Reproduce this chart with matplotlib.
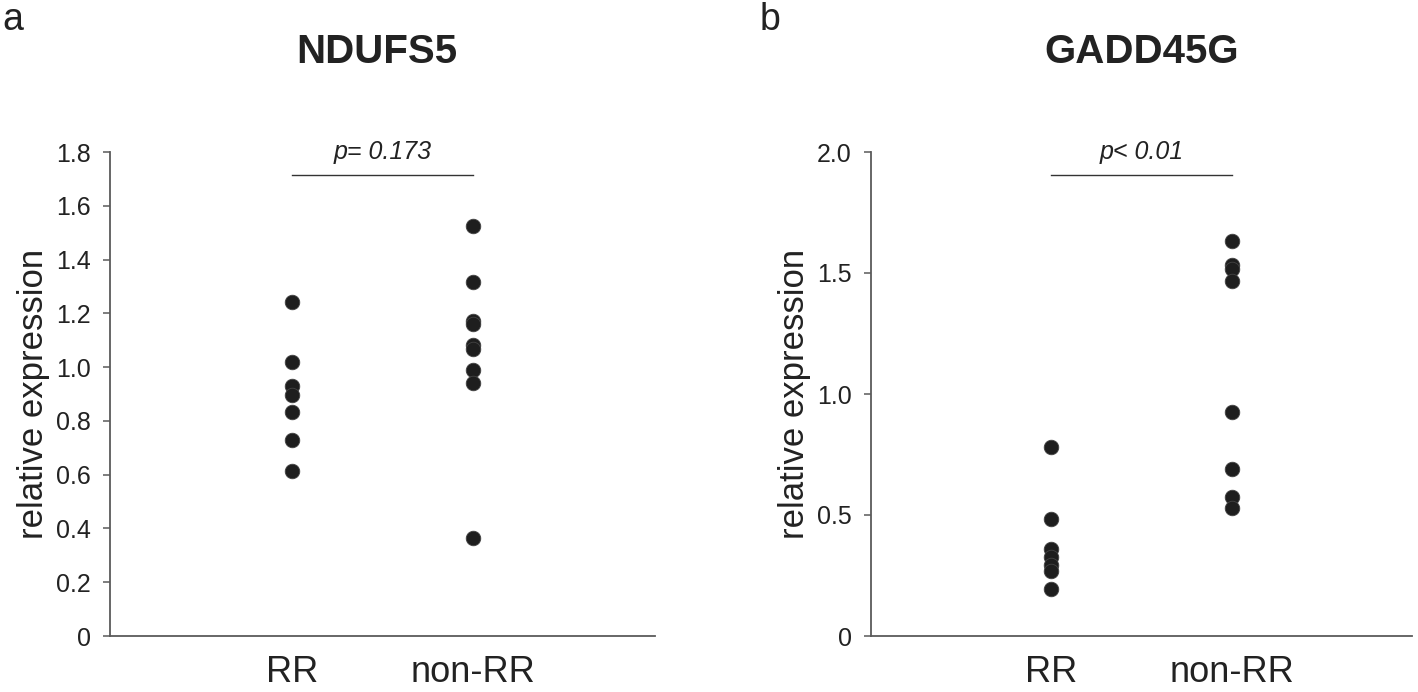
import matplotlib
matplotlib.use("Agg")
import matplotlib.pyplot as plt

plt.rcParams['font.family'] = ['Liberation Sans', 'DejaVu Sans']

# ---- data ----
groups = ["RR", "non-RR"]

ndufs5_rr = [1.244, 1.020, 0.929, 0.896, 0.834, 0.729, 0.613]
ndufs5_nonrr = [1.525, 1.316, 1.173, 1.160, 1.081, 1.068, 0.989, 0.940, 0.366]

gadd45g_rr = [0.782, 0.484, 0.360, 0.325, 0.295, 0.270, 0.196]
gadd45g_nonrr = [1.634, 1.533, 1.518, 1.468, 0.924, 0.690, 0.573, 0.528]

ticks_a = [0, 0.2, 0.4, 0.6, 0.8, 1.0, 1.2, 1.4, 1.6, 1.8]
ticklabels_a = ["0", "0.2", "0.4", "0.6", "0.8", "1.0", "1.2", "1.4", "1.6", "1.8"]
ticks_b = [0, 0.5, 1.0, 1.5, 2.0]
ticklabels_b = ["0", "0.5", "1.0", "1.5", "2.0"]

titles = ["NDUFS5", "GADD45G"]
pvals = ["p= 0.173", "p< 0.01"]
panel_letters = ["a", "b"]

W, H = 1418, 692
fig = plt.figure(figsize=(W / 100, H / 100), dpi=100)

axis_col = "#5a5a5a"
text_col = "#222222"
dot_col = "#1e1e1e"

def px(x0, y0, x1, y1):
    return [x0 / W, 1 - y1 / H, (x1 - x0) / W, (y1 - y0) / H]

ax_a = fig.add_axes(px(110, 152, 655, 636))
ax_b = fig.add_axes(px(871, 152, 1412, 636))

panels = [
    (ax_a, ndufs5_rr, ndufs5_nonrr, ticks_a, ticklabels_a, 1.8, 1.714),
    (ax_b, gadd45g_rr, gadd45g_nonrr, ticks_b, ticklabels_b, 2.0, 1.905),
]

for i, (ax, rr, nrr, tks, tlabs, ymax, bar_y) in enumerate(panels):
    ax.scatter([1] * len(rr), rr, s=110, color=dot_col, edgecolors="#444444",
               linewidths=0.6, zorder=3, clip_on=False)
    ax.scatter([2] * len(nrr), nrr, s=110, color=dot_col, edgecolors="#444444",
               linewidths=0.6, zorder=3, clip_on=False)
    ax.set_xlim(0, 3)
    ax.set_ylim(0, ymax)
    ax.set_yticks(tks)
    ax.set_yticklabels(tlabs)
    ax.set_xticks([1, 2])
    ax.set_xticklabels(groups)
    ax.tick_params(axis="x", length=0, pad=14, labelsize=26, labelcolor=text_col)
    ax.tick_params(axis="y", length=5, width=1.1, color=axis_col, direction="out",
                   pad=9, labelsize=18, labelcolor=text_col)
    for sp in ["top", "right"]:
        ax.spines[sp].set_visible(False)
    for sp in ["left", "bottom"]:
        ax.spines[sp].set_color(axis_col)
        ax.spines[sp].set_linewidth(1.3)
    ax.set_ylabel("relative expression", fontsize=25, color=text_col, labelpad=4)
    # significance bar
    ax.plot([1, 2], [bar_y, bar_y], color="#333333", lw=1.0, clip_on=False)
    ax.text(1.5, ymax, pvals[i], ha="center", va="center", fontsize=18,
            style="italic", color=text_col, clip_on=False)

# titles
fig.text(377 / W, 1 - 63 / H, titles[0], ha="center", va="baseline",
         fontsize=29, fontweight="bold", color=text_col)
fig.text(1142 / W, 1 - 63 / H, titles[1], ha="center", va="baseline",
         fontsize=29, fontweight="bold", color=text_col)

# panel letters
fig.text(2 / W, 1 - 30 / H, panel_letters[0], ha="left", va="baseline",
         fontsize=27, color=text_col)
fig.text(760 / W, 1 - 30 / H, panel_letters[1], ha="left", va="baseline",
         fontsize=27, color=text_col)

fig.savefig("out.png", dpi=100, facecolor="white")
